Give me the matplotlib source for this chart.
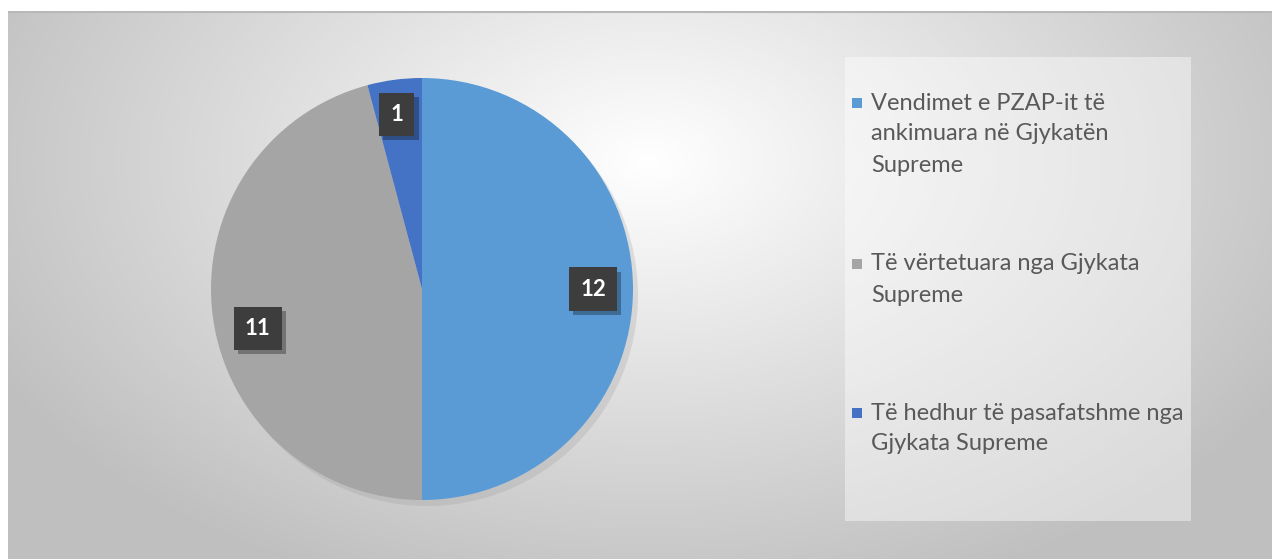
import numpy as np
import matplotlib
matplotlib.use("Agg")
import matplotlib.pyplot as plt
from matplotlib.patches import Rectangle
import matplotlib.patheffects as pe

categories = [
    "Vendimet e PZAP-it të\nankimuara në Gjykatën\nSupreme",
    "Të vërtetuara nga Gjykata\nSupreme",
    "Të hedhur të pasafatshme nga\nGjykata Supreme",
]
values = [12, 11, 1]
colors = ["#5B9BD5", "#A5A5A5", "#4472C4"]

W, H = 1272, 559
fig = plt.figure(figsize=(W / 100, H / 100), dpi=100)
fig.patch.set_facecolor("white")

# background gradient
bg = fig.add_axes([8 / W, 0, 1 - 8 / W, (H - 11) / H], zorder=-5)
bw, bh = 1264, 548
xx, yy = np.meshgrid(np.arange(bw), np.arange(bh))
d = np.sqrt(((xx - 640) / 740.0) ** 2 + ((yy - 150) / 460.0) ** 2)
val = 1.0 - 0.25 * np.clip(d, 0, 1.25)
val = np.clip(val, 0.75, 1.0)
img = np.dstack([val, val, val])
bg.imshow(img, aspect="auto", extent=[0, bw, bh, 0], interpolation="bilinear")
bg.plot([0, bw], [1, 1], color="#b8b8b8", lw=1.5)
bg.set_xlim(0, bw)
bg.set_ylim(bh, 0)
bg.axis("off")

# legend box (semi-transparent)
fig.patches.append(Rectangle((845 / W, (H - 521) / H), (1191 - 845) / W, (521 - 57) / H,
                             transform=fig.transFigure, facecolor="white", alpha=0.42,
                             edgecolor="none", zorder=-1))

# pie
cx, cy, r = 422, 289, 211
sh = fig.add_axes([(cx - r + 5) / W, (H - cy - r - 6) / H, 2 * r / W, 2 * r / H], zorder=-0.5)
sh.pie([1], colors=["#9a9a9a"], radius=1.0, wedgeprops=dict(alpha=0.25, linewidth=0))
sh.set_xlim(-1.0, 1.0); sh.set_ylim(-1.0, 1.0); sh.axis("off")

ax = fig.add_axes([(cx - r) / W, (H - cy - r) / H, 2 * r / W, 2 * r / H])
wedges, _ = ax.pie(values, colors=colors, startangle=90, counterclock=False,
                   radius=1.0, wedgeprops=dict(linewidth=0))
ax.set_xlim(-1.0, 1.0)
ax.set_ylim(-1.0, 1.0)
ax.set_aspect("equal")
ax.axis("off")

# data labels (Excel best-fit style placement)
label_angle_shift = [0, 6, 0.7]
label_radius = [0.81, 0.80, 0.835]
for w, v, da, rr in zip(wedges, values, label_angle_shift, label_radius):
    ang = np.deg2rad((w.theta1 + w.theta2) / 2 + da)
    x, y = rr * np.cos(ang), rr * np.sin(ang)
    t = ax.text(x, y, str(v), ha="center", va="center", fontsize=16, fontweight="bold",
                family="Lato", color="white",
                bbox=dict(boxstyle="square,pad=0.5", facecolor="#3d3d3d", edgecolor="none"))
    t.get_bbox_patch().set_path_effects([
        pe.SimplePatchShadow(offset=(3, -3), shadow_rgbFace="black", alpha=0.3), pe.Normal()])

# legend
entry_top = [103, 264, 413]
line_h = 31
for cat, col, yt in zip(categories, colors, entry_top):
    fig.patches.append(Rectangle((852 / W, (H - yt - 5) / H), 10 / W, 10 / H,
                                 transform=fig.transFigure, facecolor=col, edgecolor="none"))
    for i, line in enumerate(cat.split("\n")):
        fig.text(871 / W, (H - yt - i * line_h) / H, line, ha="left", va="center",
                 fontsize=17, family="Lato", color="#595959")

fig.savefig("out.png", dpi=100)
